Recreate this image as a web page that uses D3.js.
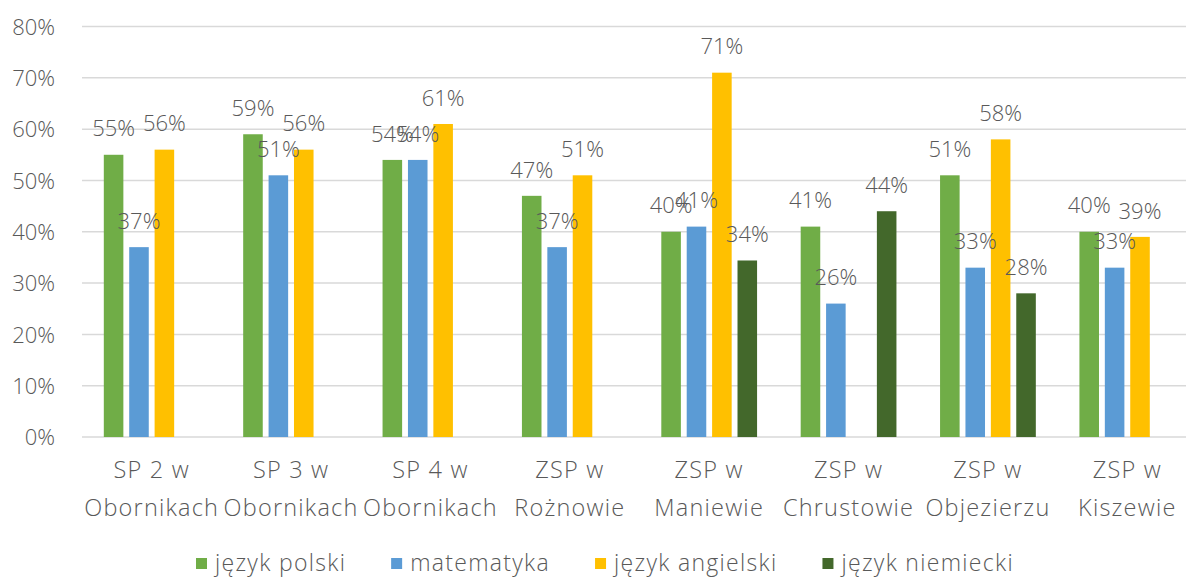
<!DOCTYPE html>
<html>
<head>
<meta charset="utf-8">
<script src="https://cdn.jsdelivr.net/npm/d3@7"></script>
<style>
  body { margin: 0; background: #fff; }
  svg text { font-family: "Open Sans", Lato, "Noto Sans", sans-serif; font-weight: 300; fill: #595959; }
</style>
</head>
<body>
<svg id="chart" width="1186" height="578"></svg>
<script>
// schools (two-line labels)
let categories = ["SP 2 w|Obornikach", "SP 3 w|Obornikach", "SP 4 w|Obornikach", "ZSP w|Rożnowie",
                  "ZSP w|Maniewie", "ZSP w|Chrustowie", "ZSP w|Objezierzu", "ZSP w|Kiszewie"];
let series = ["język polski", "matematyka", "język angielski", "język niemiecki"];
let colors = ["#70ad47", "#5b9bd5", "#ffc000", "#43682b"];

// values per series, null = no bar
let polski     = [0.55, 0.59, 0.54, 0.47, 0.40, 0.41, 0.51, 0.40];
let matematyka = [0.37, 0.51, 0.54, 0.37, 0.41, 0.26, 0.33, 0.33];
let angielski  = [0.56, 0.56, 0.61, 0.51, 0.71, null, 0.58, 0.39];
let niemiecki  = [null, null, null, null, 0.344, 0.44, 0.28, null];

let yTicks = [0, 0.1, 0.2, 0.3, 0.4, 0.5, 0.6, 0.7, 0.8];

let values = [polski, matematyka, angielski, niemiecki];

let svg = d3.select("#chart");

let margin = {left: 82, right: 1197, top: 26.5, bottom: 437};

let x0 = d3.scaleBand().domain(categories).range([margin.left, margin.right])
    .paddingInner(0.271).paddingOuter(0.1355);
let x1 = d3.scaleBand().domain(series).range([0, x0.bandwidth()])
    .paddingInner(0.23).paddingOuter(0.115);
let y = d3.scaleLinear().domain([0, 0.8]).range([margin.bottom, margin.top]);

// gridlines
svg.append("g").selectAll("line")
    .data(yTicks)
    .enter().append("line")
    .attr("x1", margin.left).attr("x2", margin.right)
    .attr("y1", d => y(d)).attr("y2", d => y(d))
    .attr("stroke", "#d9d9d9")
    .attr("stroke-width", 1.5);

// y axis labels
let yAxis = d3.axisLeft(y).tickValues(yTicks).tickFormat(d3.format(".0%")).tickSize(0).tickPadding(0);
let gy = svg.append("g").attr("transform", "translate(55,0)").call(yAxis);
gy.select(".domain").remove();
gy.attr("font-family", null).attr("font-size", null);
gy.selectAll("text")
    .attr("font-size", 22)
    .attr("fill", null)
    .attr("dy", "0.35em");

// bars
let points = [];
categories.forEach((c, i) => {
    series.forEach((s, j) => {
        if (values[j][i] != null) points.push({cat: c, ser: s, v: values[j][i], color: colors[j]});
    });
});

let bars = svg.append("g");
bars.selectAll("rect")
    .data(points)
    .enter().append("rect")
    .attr("x", d => x0(d.cat) + x1(d.ser))
    .attr("y", d => y(d.v))
    .attr("width", x1.bandwidth())
    .attr("height", d => y(0) - y(d.v))
    .attr("fill", d => d.color);

// value labels
bars.selectAll("text")
    .data(points)
    .enter().append("text")
    .attr("x", d => x0(d.cat) + x1(d.ser) + x1.bandwidth() / 2)
    .attr("y", d => y(d.v) - 26)
    .attr("dy", "0.35em")
    .attr("text-anchor", "middle")
    .attr("font-size", 22)
    .text(d => d3.format(".0%")(d.v));

// category labels
let gx = svg.append("g");
categories.forEach(c => {
    let lines = c.split("|");
    let t = gx.append("text")
        .attr("text-anchor", "middle")
        .attr("font-size", 23.5)
        .attr("letter-spacing", 1.2);
    lines.forEach((l, k) => {
        t.append("tspan")
            .attr("x", x0(c) + x0.bandwidth() / 2)
            .attr("y", 478 + k * 38)
            .text(l);
    });
});

// legend
let legend = svg.append("g");
let lx = 196;
series.forEach((s, j) => {
    legend.append("rect")
        .attr("x", lx).attr("y", 558)
        .attr("width", 11).attr("height", 11)
        .attr("fill", colors[j]);
    let t = legend.append("text")
        .attr("x", lx + 19).attr("y", 571)
        .attr("font-size", 23)
        .attr("letter-spacing", 1.3)
        .text(s);
    lx += 19 + t.node().getComputedTextLength() + 45;
});
</script>
</body>
</html>
